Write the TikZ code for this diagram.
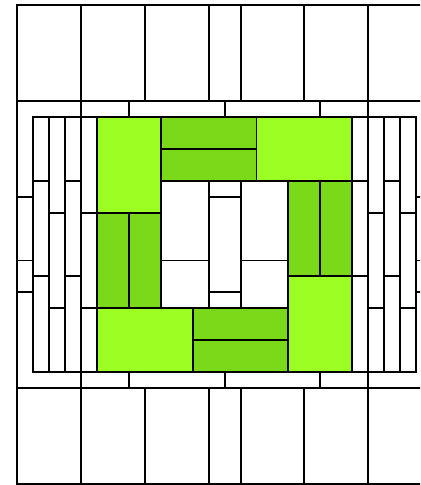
\documentclass[tikz,border=0pt]{standalone}
\usepackage{xcolor}
\usepackage{tikz}

\definecolor{litegreen}{HTML}{9BFF23}
\definecolor{darkgreen}{HTML}{7ADA19}

\begin{document}
\begin{tikzpicture}[
  x=0.4cm, y=-0.4cm,
  line/.style={draw=black, line width=1.4pt},
  cell/.style={line, fill=white},
  lite/.style={line, fill=litegreen},
  dark/.style={line, fill=darkgreen}
]
\clip (-1.0625,-0.3125) rectangle (25.25,30.06);

% Top and bottom rows
\foreach \a/\b in {0/4,4/8,8/12,12/14,14/18,18/22,22/26} {
  \draw[cell] (\a,0) rectangle (\b,6);
  \draw[cell] (\a,24) rectangle (\b,30);
}

% Frame and strips
\draw[line] (0,6) -- (0,24) (26,6) -- (26,24);
\draw[line] (1,7) rectangle (25,23);
\foreach \x in {4,22} \draw[line] (\x,6) -- (\x,24);
\foreach \x in {7,13,19} {
  \draw[line] (\x,6) -- (\x,7);
  \draw[line] (\x,23) -- (\x,24);
}
\foreach \x in {2,3,5,21,23,24} \draw[line] (\x,7) -- (\x,23);

% Strip breaks
\foreach \x in {1,3,21,23} \foreach \y in {11,17} \draw[line] (\x,\y) -- ++(1,0);
\foreach \x in {2,4,22,24} \foreach \y in {13,19} \draw[line] (\x,\y) -- ++(1,0);
\foreach \x in {0,25} \foreach \y in {12,16,18} \draw[line] (\x,\y) -- ++(1,0);

% Green ring
\draw[lite] (5,7) rectangle (9,13);
\draw[dark] (9,7) rectangle (15,9);
\draw[dark] (9,9) rectangle (15,11);
\draw[lite] (15,7) rectangle (21,11);
\draw[dark] (17,11) rectangle (19,17);
\draw[dark] (19,11) rectangle (21,17);
\draw[lite] (17,17) rectangle (21,23);
\draw[dark] (11,19) rectangle (17,21);
\draw[dark] (11,21) rectangle (17,23);
\draw[lite] (5,19) rectangle (11,23);
\draw[dark] (5,13) rectangle (7,19);
\draw[dark] (7,13) rectangle (9,19);

% Centre
\draw[cell] (9,11) rectangle (12,16);
\draw[cell] (9,16) rectangle (12,19);
\draw[cell] (12,11) rectangle (14,12);
\draw[cell] (12,12) rectangle (14,18);
\draw[cell] (12,18) rectangle (14,19);
\draw[cell] (14,11) rectangle (17,16);
\draw[cell] (14,16) rectangle (17,19);
\end{tikzpicture}
\end{document}
